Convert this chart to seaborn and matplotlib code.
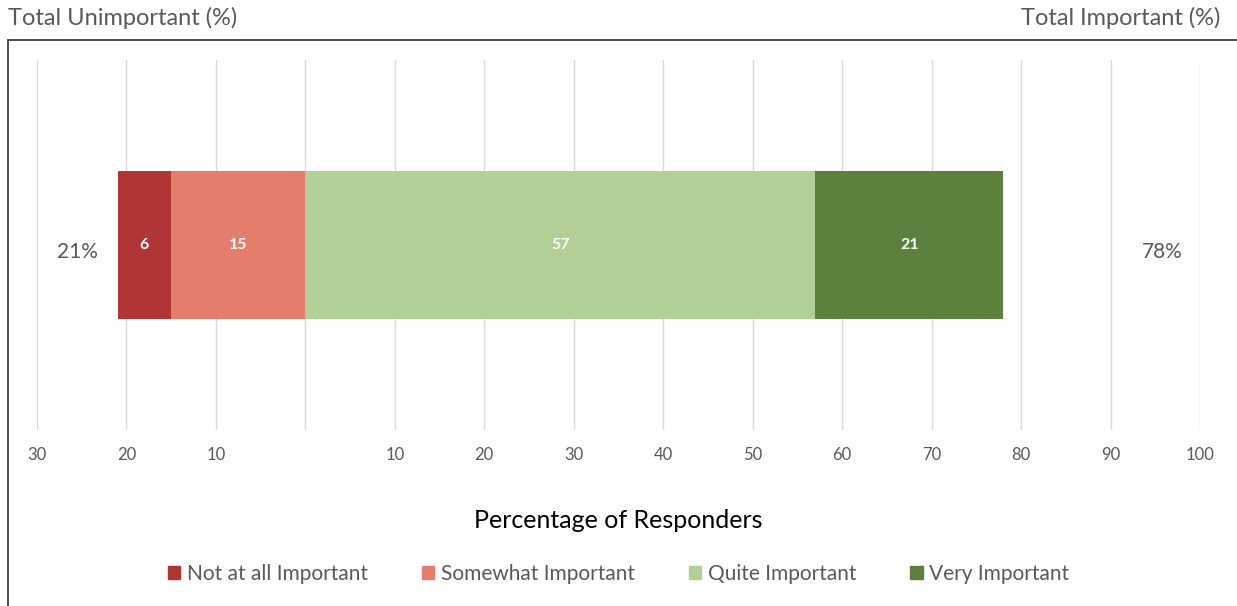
import matplotlib
matplotlib.use("Agg")
import matplotlib.pyplot as plt
import seaborn as sns
import pandas as pd
from matplotlib.patches import Rectangle

# data
categories = ["Not at all Important", "Somewhat Important", "Quite Important", "Very Important"]
values = [6, 15, 57, 21]
colors = ["#B03535", "#E57D6D", "#B2CF96", "#5E803F"]
tick_values = [-30, -20, -10, 0, 10, 20, 30, 40, 50, 60, 70, 80, 90, 100]
tick_labels = ["30", "20", "10", "", "10", "20", "30", "40", "50", "60", "70", "80", "90", "100"]
total_unimportant = 21
total_important = 78

sns.set_theme(style="white")
plt.rcParams["font.family"] = ["Lato", "DejaVu Sans"]

fig = plt.figure(figsize=(12.37, 6.06), dpi=100)
ax = fig.add_axes([37 / 1237, 1 - 430 / 606, 1163 / 1237, 370 / 606])

# segment edges: negative side for unimportant, positive for important
neg_left = -(values[0] + values[1])
starts = [neg_left, neg_left + values[0], 0, values[2]]
ends = [s + v for s, v in zip(starts, values)]

# overlapping bars, drawn from the outside in
order = [0, 1, 3, 2]
for i in order:
    edge = starts[i] if starts[i] < 0 else ends[i]
    df = pd.DataFrame({"x": [edge], "y": ["all"]})
    sns.barplot(data=df, x="x", y="y", orient="h", color=colors[i],
                width=0.4, ax=ax, saturation=1, linewidth=0)

for i in range(4):
    mid = (starts[i] + ends[i]) / 2
    ax.text(mid, 0, str(values[i]), color="white", fontsize=11.5, fontweight="bold",
            ha="center", va="center")

ax.set_xlim(-30, 100)
ax.set_ylim(0.5, -0.5)
ax.set_xticks(tick_values)
ax.set_xticklabels(tick_labels, color="#595959", fontsize=12)
ax.tick_params(axis="x", length=0, pad=12)
ax.set_yticks([])
ax.set_ylabel("")
ax.set_xlabel("Percentage of Responders", fontsize=18, color="black", labelpad=33)
ax.grid(axis="x", color="#D9D9D9", linewidth=1)
ax.set_axisbelow(True)
for s in ax.spines.values():
    s.set_visible(False)

ax.text(-25.5, 0.02, f"{total_unimportant}%", fontsize=15, color="#595959", ha="center", va="center")
ax.text(95.8, 0.02, f"{total_important}%", fontsize=15, color="#595959", ha="center", va="center")

fig.text(8 / 1237, 1 - 18 / 606, "Total Unimportant (%)", fontsize=17, color="#595959", ha="left", va="center")
fig.text(1220 / 1237, 1 - 18 / 606, "Total Important (%)", fontsize=17, color="#595959", ha="right", va="center")

fig.patches.append(Rectangle((8 / 1237, -0.05), 1.1, 1 - 40 / 606 + 0.05, transform=fig.transFigure,
                             fill=False, edgecolor="#404040", linewidth=1.3))

handles = [Rectangle((0, 0), 1, 1, color=c) for c in colors]
fig.legend(handles, categories, loc="center", bbox_to_anchor=(0.5, 1 - 574 / 606), ncol=4,
           frameon=False, fontsize=15, labelcolor="#595959", handlelength=0.6, handleheight=0.6,
           handletextpad=0.3, columnspacing=2.6)

fig.savefig("out.png", dpi=100)
